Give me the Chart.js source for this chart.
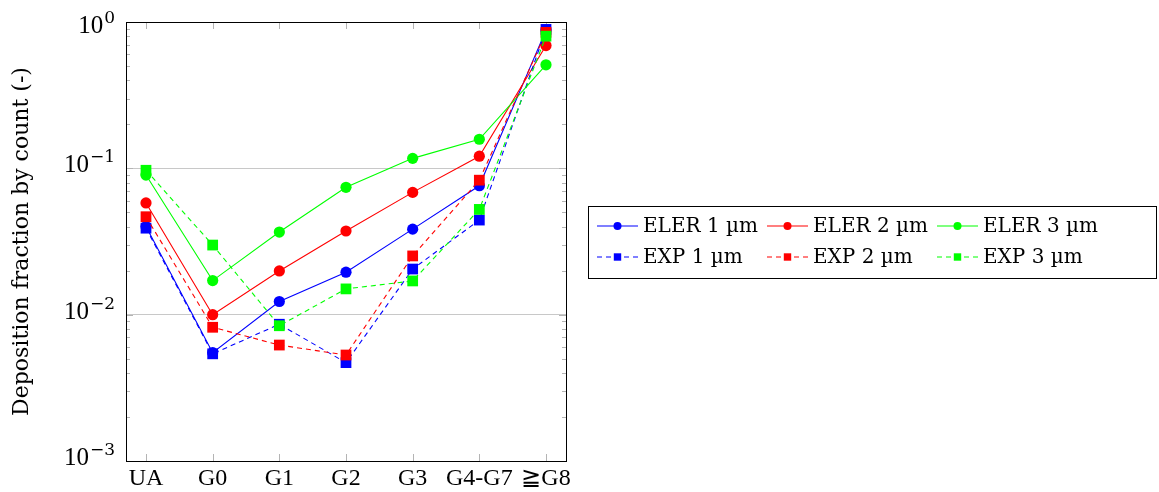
<!DOCTYPE html>
<html>
<head>
<meta charset="utf-8">
<script src="https://cdn.jsdelivr.net/npm/chart.js@4/dist/chart.umd.min.js"></script>
<style>
html, body { margin: 0; padding: 0; background: #fff; }
#wrap { position: relative; width: 1159px; height: 492px; }
</style>
</head>
<body>
<div id="wrap"><canvas id="myLineChart" width="1159" height="492"></canvas></div>
<script>
// categories and tick labels
var categories = ["UA", "G0", "G1", "G2", "G3", "G4-G7", "\u2267G8"];
var yTickValues = [0.001, 0.01, 0.1, 1];
var yTickExponents = ["\u22123", "\u22122", "\u22121", "0"];

// series
var eler1 = [0.040, 0.0055, 0.0123, 0.0195, 0.0384, 0.076, 0.88];
var eler2 = [0.058, 0.0100, 0.0199, 0.0373, 0.0685, 0.121, 0.69];
var eler3 = [0.090, 0.0171, 0.0367, 0.0742, 0.117, 0.158, 0.51];
var exp1 = [0.039, 0.0054, 0.0086, 0.0047, 0.0205, 0.0443, 0.89];
var exp2 = [0.0467, 0.0082, 0.0062, 0.0053, 0.0252, 0.083, 0.85];
var exp3 = [0.097, 0.0299, 0.0084, 0.0150, 0.0170, 0.0524, 0.80];

var seriesLabels = ["ELER 1 \u00B5m", "ELER 2 \u00B5m", "ELER 3 \u00B5m", "EXP 1 \u00B5m", "EXP 2 \u00B5m", "EXP 3 \u00B5m"];
var seriesColors = ["#0000ff", "#ff0000", "#00ff00", "#0000ff", "#ff0000", "#00ff00"];

var FONT = "'DejaVu Serif', 'Liberation Serif', serif";
var FONT_TIMES = "'Liberation Serif', 'DejaVu Serif', serif";

function toPoints(values) {
    return values.map(function(v, i) { return { x: i, y: v }; });
}

function makeDataset(idx, values) {
    var isExp = idx >= 3;
    return {
        label: seriesLabels[idx],
        data: toPoints(values),
        borderColor: seriesColors[idx],
        backgroundColor: seriesColors[idx],
        pointBackgroundColor: seriesColors[idx],
        pointBorderColor: seriesColors[idx],
        pointBorderWidth: 0,
        borderWidth: 1.1,
        borderDash: isExp ? [5, 4] : [],
        pointStyle: isExp ? 'rect' : 'circle',
        pointRadius: isExp ? 7.6 : 5.6,
        pointHoverRadius: isExp ? 7.6 : 5.6,
        tension: 0,
        clip: false,
        order: 6 - idx
    };
}

// frame, minor ticks, 10^n labels and the boxed legend
var framePlugin = {
    id: 'framePlugin',
    beforeDatasetsDraw: function(chart) {
        var ctx = chart.ctx, a = chart.chartArea;
        var xs = chart.scales.x, ys = chart.scales.y;
        ctx.save();
        ctx.strokeStyle = '#b4b4b4';
        ctx.lineWidth = 1;
        ctx.beginPath();
        // x ticks, top and bottom, inside
        categories.forEach(function(c, i) {
            var px = Math.round(xs.getPixelForValue(i)) + 0.5;
            ctx.moveTo(px, a.bottom); ctx.lineTo(px, a.bottom - 7);
            ctx.moveTo(px, a.top); ctx.lineTo(px, a.top + 7);
        });
        // y ticks, major and minor
        for (var d = -3; d <= -1; d++) {
            for (var k = 1; k <= 9; k++) {
                var py = Math.round(ys.getPixelForValue(k * Math.pow(10, d))) + 0.5;
                var len = (k === 1) ? 7 : 4;
                ctx.moveTo(a.left, py); ctx.lineTo(a.left + len, py);
                ctx.moveTo(a.right, py); ctx.lineTo(a.right - len, py);
            }
        }
        ctx.stroke();
        ctx.strokeStyle = '#000';
        ctx.lineWidth = 1;
        ctx.strokeRect(Math.round(a.left) + 0.5, Math.round(a.top) + 0.5,
            Math.round(a.right - a.left), Math.round(a.bottom - a.top));

        // y tick labels as 10 with a raised exponent
        ctx.fillStyle = '#000';
        ctx.textBaseline = 'alphabetic';
        ctx.textAlign = 'right';
        yTickValues.forEach(function(v, i) {
            var py = ys.getPixelForValue(v);
            var dy = (v === 1) ? 11 : 4;
            var right = a.left - 11;
            ctx.font = '17px ' + FONT;
            var w = ctx.measureText(yTickExponents[i]).width;
            ctx.fillText(yTickExponents[i], right, py + dy - 10);
            ctx.font = '25px ' + FONT_TIMES;
            ctx.fillText('10', right - w - 1, py + dy);
        });
        ctx.restore();
    },
    afterDraw: function(chart) {
        var ctx = chart.ctx;
        var boxX = 588.5, boxY = 206.5, boxW = 568, boxH = 72;
        var colX = [597, 767, 937];
        var rowY = [226, 257];
        ctx.save();
        ctx.strokeStyle = '#000';
        ctx.lineWidth = 1;
        ctx.strokeRect(boxX, boxY, boxW, boxH);
        ctx.font = '20px ' + FONT;
        ctx.textBaseline = 'middle';
        ctx.textAlign = 'left';
        chart.data.datasets.forEach(function(ds, i) {
            var x0 = colX[i % 3], y0 = rowY[Math.floor(i / 3)];
            var isExp = i >= 3;
            ctx.strokeStyle = ds.borderColor;
            ctx.fillStyle = ds.borderColor;
            ctx.lineWidth = 1.1;
            ctx.setLineDash(isExp ? [5, 4] : []);
            ctx.beginPath();
            ctx.moveTo(x0, y0); ctx.lineTo(x0 + 41, y0);
            ctx.stroke();
            ctx.setLineDash([]);
            ctx.beginPath();
            if (isExp) {
                ctx.rect(x0 + 20.5 - 3.7, y0 - 3.7, 7.4, 7.4);
            } else {
                ctx.arc(x0 + 20.5, y0, 4, 0, Math.PI * 2);
            }
            ctx.fill();
            ctx.fillStyle = '#000';
            ctx.fillText(ds.label, x0 + 46, y0 + 1);
        });
        ctx.restore();
    }
};

var ctx = document.getElementById("myLineChart");
var myLineChart = new Chart(ctx.getContext('2d'), {
    type: 'line',
    data: {
        datasets: [
            makeDataset(0, eler1),
            makeDataset(1, eler2),
            makeDataset(2, eler3),
            makeDataset(3, exp1),
            makeDataset(4, exp2),
            makeDataset(5, exp3)
        ]
    },
    options: {
        responsive: false,
        animation: false,
        devicePixelRatio: 1,
        layout: {
            padding: { left: 0, right: 593, top: 22, bottom: 0 }
        },
        scales: {
            x: {
                type: 'linear',
                min: -0.3,
                max: 6.3,
                afterBuildTicks: function(scale) {
                    scale.ticks = categories.map(function(c, i) { return { value: i }; });
                },
                afterFit: function(scale) { scale.height = 31; },
                grid: { display: false, drawTicks: false },
                border: { display: false },
                ticks: {
                    padding: 3,
                    color: '#000',
                    font: { family: FONT_TIMES, size: 24 },
                    maxRotation: 0,
                    autoSkip: false,
                    callback: function(value) { return categories[value]; }
                }
            },
            y: {
                type: 'logarithmic',
                min: 0.001,
                max: 1,
                afterBuildTicks: function(scale) {
                    scale.ticks = yTickValues.map(function(v) { return { value: v }; });
                },
                afterFit: function(scale) { scale.width = 126; },
                grid: {
                    drawTicks: false,
                    color: function(c) {
                        return (c.tick && (c.tick.value === 0.01 || c.tick.value === 0.1)) ? '#c8c8c8' : 'rgba(0,0,0,0)';
                    },
                    lineWidth: 1
                },
                border: { display: false },
                ticks: {
                    display: false,
                    autoSkip: false
                },
                title: {
                    display: true,
                    text: 'Deposition fraction by count (-)',
                    color: '#000',
                    font: { family: FONT, size: 22 },
                    padding: { top: 9, bottom: 0 }
                }
            }
        },
        plugins: {
            legend: { display: false },
            tooltip: { enabled: false }
        }
    },
    plugins: [framePlugin]
});
</script>
</body>
</html>
